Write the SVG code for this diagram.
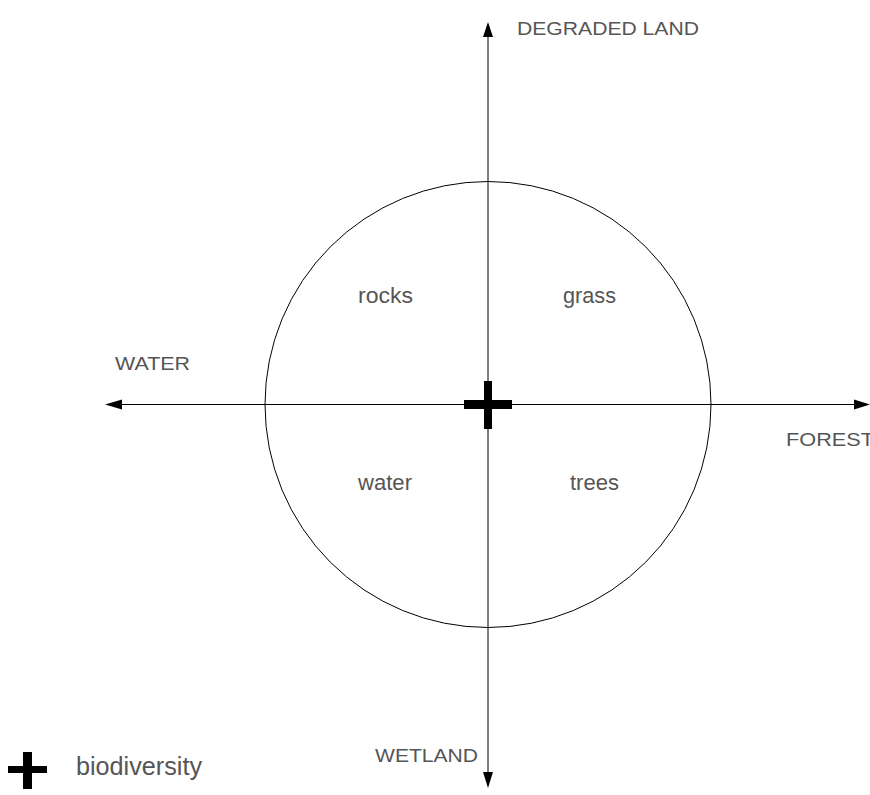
<svg xmlns="http://www.w3.org/2000/svg" width="870" height="795" viewBox="0 0 870 795">
  <style>
    .axis { stroke: #000; stroke-width: 1; fill: none; }
    .ring { stroke: #000; stroke-width: 1; fill: none; }
    .head { fill: #000; }
    .mark { fill: #000; }
    .lbl { font-family: "Liberation Sans", Arial, sans-serif; fill: #555; }
    .axis-lbl { font-size: 19px; }
    .zone-lbl { font-size: 22px; }
    .legend-lbl { font-size: 25px; }
  </style>

  <rect width="870" height="795" fill="#fff"/>

  <!-- outer ring -->
  <g id="ring">
    <circle class="ring" cx="488" cy="404.5" r="223"/>
  </g>

  <!-- axes with arrowheads -->
  <g id="connectors">
    <line class="axis" x1="488" y1="35" x2="488" y2="774"/>
    <line class="axis" x1="120" y1="404.5" x2="857" y2="404.5"/>
    <polygon class="head" points="488,22 483,37 493,37"/>
    <polygon class="head" points="488,788 483,772 493,772"/>
    <polygon class="head" points="105,404.5 122,399.5 122,409.5"/>
    <polygon class="head" points="870,404.5 854,399.5 854,409.5"/>
  </g>

  <!-- centre biodiversity marker -->
  <g id="centre-mark">
    <rect class="mark" x="464" y="400" width="48" height="9"/>
    <rect class="mark" x="484" y="381" width="8" height="48"/>
  </g>

  <!-- axis end labels -->
  <g id="degraded-land">
    <text class="lbl axis-lbl" x="517" y="35" textLength="182" lengthAdjust="spacingAndGlyphs">DEGRADED LAND</text>
  </g>
  <g id="water-axis">
    <text class="lbl axis-lbl" x="115" y="370" textLength="75" lengthAdjust="spacingAndGlyphs">WATER</text>
  </g>
  <g id="forest">
    <text class="lbl axis-lbl" x="786" y="446" textLength="88" lengthAdjust="spacingAndGlyphs">FOREST</text>
  </g>
  <g id="wetland">
    <text class="lbl axis-lbl" x="375" y="762" textLength="103" lengthAdjust="spacingAndGlyphs">WETLAND</text>
  </g>

  <!-- quadrant labels -->
  <g id="rocks">
    <text class="lbl zone-lbl" x="358" y="303" textLength="55" lengthAdjust="spacingAndGlyphs">rocks</text>
  </g>
  <g id="grass">
    <text class="lbl zone-lbl" x="563" y="303" textLength="53" lengthAdjust="spacingAndGlyphs">grass</text>
  </g>
  <g id="water">
    <text class="lbl zone-lbl" x="358" y="490" textLength="54" lengthAdjust="spacingAndGlyphs">water</text>
  </g>
  <g id="trees">
    <text class="lbl zone-lbl" x="570" y="490" textLength="49" lengthAdjust="spacingAndGlyphs">trees</text>
  </g>

  <!-- legend -->
  <g id="legend">
    <rect class="mark" x="8" y="766" width="39" height="7"/>
    <rect class="mark" x="23" y="752" width="9" height="37"/>
    <text class="lbl legend-lbl" x="76" y="775" textLength="126" lengthAdjust="spacingAndGlyphs">biodiversity</text>
  </g>
</svg>
